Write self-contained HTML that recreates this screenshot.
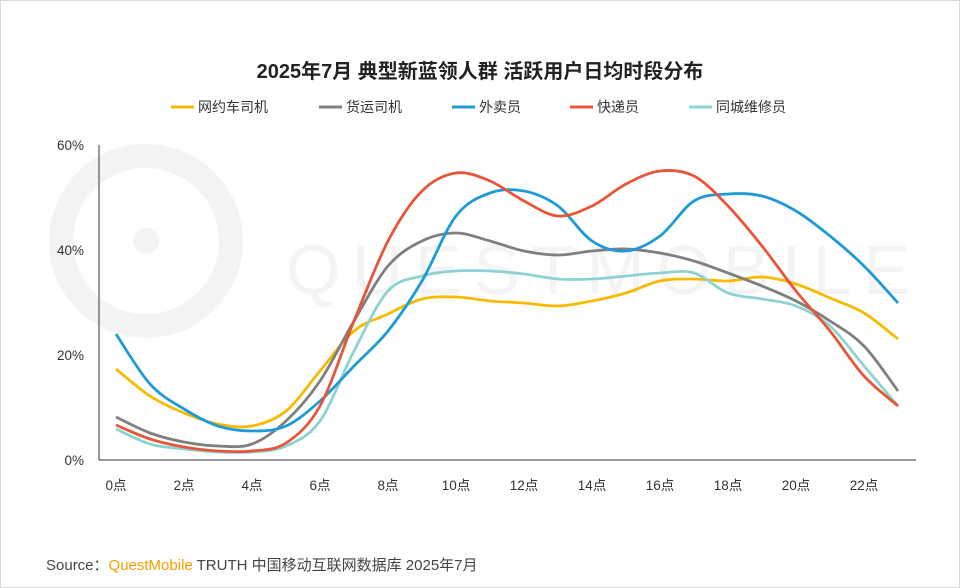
<!DOCTYPE html>
<html><head><meta charset="utf-8"><style>
body{margin:0;background:#fff;}
#c{position:relative;width:958px;height:586px;border:1px solid #d9d9d9;overflow:hidden;font-family:"Liberation Sans","Noto Sans CJK SC",sans-serif;}
</style></head><body><div id="c">
<svg width="958" height="586" id="s" xmlns="http://www.w3.org/2000/svg" style="position:absolute;left:0;top:0">
<g fill="none" stroke="#f3f3f3" stroke-width="24">
<circle cx="145" cy="240" r="85"/>
</g>
<circle cx="145" cy="240" r="13" fill="#f3f3f3"/>
<text x="285" y="293" font-size="70" fill="#f4f4f4" font-family="Liberation Sans" letter-spacing="6" textLength="630">QUESTMOBILE</text>
<text x="479" y="77" text-anchor="middle" font-size="20" fill="#222" font-weight="600" font-family="Liberation Sans,Noto Sans CJK SC,sans-serif">2025年7月 典型新蓝领人群 活跃用户日均时段分布</text>
<g font-size="14" fill="#333" font-family="Liberation Sans,Noto Sans CJK SC,sans-serif">
<line x1="170" y1="106" x2="193" y2="106" stroke="#F5B800" stroke-width="3"/><text x="197" y="111">网约车司机</text>
<line x1="318" y1="106" x2="341" y2="106" stroke="#808080" stroke-width="3"/><text x="345" y="111">货运司机</text>
<line x1="451" y1="106" x2="474" y2="106" stroke="#1E9BD7" stroke-width="3"/><text x="478" y="111">外卖员</text>
<line x1="569" y1="106" x2="592" y2="106" stroke="#E8563A" stroke-width="3"/><text x="596" y="111">快递员</text>
<line x1="688" y1="106" x2="711" y2="106" stroke="#8ED3D3" stroke-width="3"/><text x="715" y="111">同城维修员</text>
</g>
<line x1="98" y1="144" x2="98" y2="459" stroke="#333"/>
<line x1="98" y1="459" x2="915" y2="459" stroke="#333"/>
<g font-size="13.5" fill="#333" text-anchor="end">
<text x="83" y="149">60%</text><text x="83" y="254">40%</text><text x="83" y="359">20%</text><text x="83" y="464">0%</text>
</g>
<g id="xl" font-size="13.5" fill="#333" text-anchor="middle" font-family="Liberation Sans,Noto Sans CJK SC,sans-serif"></g>
<g id="ln" fill="none" stroke-width="2.8"></g>
<text x="45" y="569" font-size="15" fill="#444" font-family="Liberation Sans,Noto Sans CJK SC,sans-serif">Source：<tspan fill="#F5A000">QuestMobile</tspan> TRUTH 中国移动互联网数据库 2025年7月</text>
</svg>
<script>
var ns="http://www.w3.org/2000/svg";
var xl=document.getElementById('xl');
for(var h=0;h<=22;h+=2){var t=document.createElementNS(ns,'text');t.setAttribute('x',115+34*h);t.setAttribute('y',489);t.textContent=h+'点';xl.appendChild(t);}
var S=[
["#F7BA00",[368,395,412,423,425,410,370,330,313,298,296,300,302,305,300,292,280,278,280,276,283,297,312,338]],
["#7F7F7F",[416,432,441,445,443,420,380,320,265,240,232,240,250,254,250,248,252,260,272,285,300,320,345,390]],
["#8ED3D3",[428,443,448,451,451,445,420,350,290,275,270,270,273,278,278,275,272,272,292,298,305,325,365,405]],
["#1E9BD7",[333,383,408,425,430,425,400,365,330,280,215,192,190,205,240,250,235,200,193,195,210,235,265,302]],
["#E8563A",[424,438,446,450,450,442,405,320,240,190,172,180,200,215,205,183,170,175,205,245,290,330,375,405]]];
var g=document.getElementById('ln');
S.forEach(function(s){var y=s[1],p=y.map(function(v,i){return [115+34*i,v]});
var d="M"+p[0][0]+","+p[0][1];
for(var i=0;i<p.length-1;i++){var a=p[Math.max(0,i-1)],b=p[i],c=p[i+1],e=p[Math.min(p.length-1,i+2)];
d+=" C"+(b[0]+(c[0]-a[0])/6)+","+(b[1]+(c[1]-a[1])/6)+" "+(c[0]-(e[0]-b[0])/6)+","+(c[1]-(e[1]-b[1])/6)+" "+c[0]+","+c[1];}
var pa=document.createElementNS(ns,'path');pa.setAttribute('d',d);pa.setAttribute('stroke',s[0]);g.appendChild(pa);});
</script>
</div></body></html>
